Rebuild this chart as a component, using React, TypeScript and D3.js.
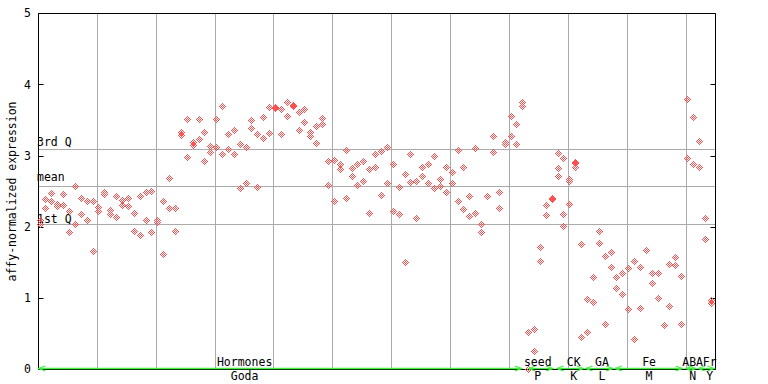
import React from 'react';
import * as d3 from 'd3';

// Expression values per sample column (replicate 1, replicate 2, optional replicate 3)
const rep1: (number | null)[] = [
  2.09, 2.38, 2.47, 2.32, 2.46, 2.22, 2.57, 2.40, 2.36, 2.36,
  2.27, 2.48, 2.23, 2.43, 2.37, 2.40, 2.19, 2.42, 2.49, 2.50,
  2.09, 2.36, 2.68, 2.26, 3.32, 3.51, 3.18, 3.51, 3.33, 3.13,
  3.51, 3.69, 3.30, 3.36, 3.16, 3.12, 3.50, 3.30, 3.54, 3.67,
  3.67, 3.65, 3.75, 3.70, 3.61, 3.65, 3.33, 3.41, 3.52, 2.92,
  2.93, 2.88, 3.08, 2.82, 2.88, 2.92, 2.81, 3.01, 3.06, 3.12,
  2.88, 2.56, 2.74, 3.01, 2.64, 2.84, 2.87, 2.99, 2.67, 2.84,
  2.77, 3.08, 2.84, 2.43, 3.10, 2.04, 2.42, 3.27, 2.49, 3.19,
  3.55, 3.44, 3.75, 0.52, 0.56, 1.71, 2.30, 2.40, 3.03, 2.96,
  2.67, 2.90, 1.75, 0.98, 1.29, 1.94, 1.59, 1.64, 1.29, 1.35,
  1.42, 1.52, 1.43, 1.67, 1.34, 1.35, 0.62, 1.47, 1.57, 1.31,
  3.79, 3.53, 3.20, 2.12, 0.96,
];
const rep2: (number | null)[] = [
  2.03, 2.26, 2.35, 2.29, 2.30, 1.92, 2.03, 2.18, 2.09, 1.66,
  2.22, 2.46, 2.18, 2.13, 2.30, 2.29, 1.94, 1.88, 2.09, 1.92,
  2.06, 1.61, 2.26, 1.94, 3.29, 2.98, 3.15, 3.23, 2.92, 3.05,
  3.12, 3.01, 3.09, 3.01, 2.54, 2.61, 3.38, 2.56, 3.24, 3.31,
  3.66, 3.30, 3.55, 3.69, 3.36, 3.46, 3.27, 3.17, 3.44, 2.58,
  2.36, 2.81, 2.40, 2.71, 2.58, 2.64, 2.19, 2.84, 2.44, 2.61,
  2.22, 2.18, 1.50, 2.63, 2.12, 2.71, 2.61, 2.54, 2.57, 2.49,
  2.61, 2.36, 2.25, 2.15, 2.19, 1.92, null, 3.05, 2.26, 3.16,
  3.27, 3.16, 3.69, 0.00, 0.25, 1.52, 2.16, 2.39, 2.82, 2.18,
  2.64, 2.84, 0.45, 0.52, 0.94, 1.76, 0.63, 1.43, 1.14, 1.05,
  0.84, 0.42, 0.86, null, 1.21, 1.00, null, 0.88, 1.46, 0.63,
  2.96, 2.88, 2.84, 1.83, 0.93,
];
const rep3Columns = [88, 89, 90, 91];
const rep3Values = [2.71, 2.01, 2.32, 2.89];

// Groups along the x axis (experiment / dataset)
const groupNames = ['Hormones', 'seed', 'CK', 'GA', 'Fe', 'ABA', 'Fr'];
const datasetNames = ['Goda', 'P', 'K', 'L', 'M', 'N', 'Y'];
const groupStart = [0.05, 83.3, 88.1, 93.0, 98.0, 110.0, 112.1];
const groupEnd = [82.2, 87.5, 92.7, 97.7, 109.5, 111.8, 114.9];
const groupLabelAt = [35.1, 84.9, 91.0, 95.8, 103.8, 111.2, 114.1];

// Summary lines
const quartileNames = ['3rd Q', 'mean', '1st Q'];
const quartileValues = [3.10, 2.58, 2.04];
const quartileLabelOffset = [-2.5, -4.5, -1];

const yTicks = [0, 1, 2, 3, 4, 5];
const xGrid = [10, 20, 30, 40, 50, 60, 70, 80, 90, 100, 110];

const W = 768;
const H = 384;
const FONT = '"DejaVu Sans Mono", monospace';
const RED = '#ff5050';
const GREEN = '#44ee44';
const GRID = '#aaaaaa';

export default function App() {
  const x = d3.scaleLinear().domain([0, 115]).range([38, 715]);
  const y = d3.scaleLinear().domain([0, 5]).range([369.3, 13.3]);
  const px = (v: number) => Math.round(v) + 0.5;

  const left = px(x(0));
  const right = px(x(115));
  const top = px(y(5));
  const bottom = px(y(0));

  const pts: [number, number][] = [];
  rep1.forEach((v, i) => { if (v != null) pts.push([i, v]); });
  rep2.forEach((v, i) => { if (v != null) pts.push([i, v]); });
  rep3Columns.forEach((c, i) => pts.push([c, rep3Values[i]]));

  let markPath = '';
  pts.forEach(([k, v]) => {
    const cx = Math.floor(x(k + 0.35));
    const cy = Math.floor(y(v));
    for (let dx = -3; dx <= 3; dx++) {
      for (let dy = -3; dy <= 3; dy++) {
        const d = Math.abs(dx) + Math.abs(dy);
        if (d <= 3 && (dx + dy) % 2 !== 0) {
          markPath += `M${cx + dx},${cy + dy}h1v1h-1z`;
        }
      }
    }
  });

  const greenY = 368.5;

  return (
    <svg
      width={W}
      height={H}
      viewBox={`0 0 ${W} ${H}`}
      style={{ position: 'absolute', left: 0, top: 0, background: '#fff' }}
    >
      <rect x={0} y={0} width={W} height={H} fill="#fff" />
      {xGrid.map((g) => (
        <line key={g} x1={px(x(g))} x2={px(x(g))} y1={top} y2={bottom} stroke={GRID} strokeWidth={1} />
      ))}
      {quartileValues.map((q, i) => (
        <line key={i} x1={left} x2={right} y1={px(y(q))} y2={px(y(q))} stroke={GRID} strokeWidth={1} />
      ))}
      <line x1={left} x2={right} y1={top} y2={top} stroke="#000" />
      <line x1={left} x2={left} y1={top} y2={bottom} stroke="#000" />
      <line x1={right} x2={right} y1={top} y2={bottom} stroke="#000" />
      <line x1={left} x2={right} y1={bottom} y2={bottom} stroke="#000" />
      {yTicks.map((t) => (
        <g key={t}>
          <line x1={left} x2={left + 5} y1={px(y(t))} y2={px(y(t))} stroke="#000" />
          <line x1={right - 5} x2={right} y1={px(y(t))} y2={px(y(t))} stroke="#000" />
          <text x={31} y={y(t) + 4} textAnchor="end" fontFamily={FONT} fontSize={11.5} fill="#000">
            {t}
          </text>
        </g>
      ))}
      {quartileNames.map((n, i) => (
        <text key={n} x={37} y={y(quartileValues[i]) + quartileLabelOffset[i]} fontFamily={FONT} fontSize={11.5} fill="#000">
          {n}
        </text>
      ))}
      <text
        transform={`translate(15.5,${(top + bottom) / 2}) rotate(-90)`}
        textAnchor="middle"
        fontFamily={FONT}
        fontSize={11.5}
        fill="#000"
      >
        affy-normalized expression
      </text>
      <path d={markPath} fill={RED} shapeRendering="crispEdges" />
      {groupNames.map((g, i) => {
        const xs = x(groupStart[i]);
        const xe = x(groupEnd[i]);
        return (
          <g key={g} stroke={GREEN} fill="none" strokeWidth={1.3}>
            <line x1={xs} x2={xe} y1={greenY} y2={greenY} />
            <polyline points={`${xs + 7},${greenY - 2.5} ${xs + 0.5},${greenY} ${xs + 7},${greenY + 2.5}`} />
            <polyline points={`${xe - 7},${greenY - 2.5} ${xe - 0.5},${greenY} ${xe - 7},${greenY + 2.5}`} />
          </g>
        );
      })}
      {groupNames.map((g, i) => (
        <text key={'t' + g} x={x(groupLabelAt[i])} y={366} textAnchor="middle" fontFamily={FONT} fontSize={11.5} fill="#000">
          {g}
        </text>
      ))}
      {datasetNames.map((d, i) => (
        <text key={'d' + d} x={x(groupLabelAt[i])} y={380} textAnchor="middle" fontFamily={FONT} fontSize={11.5} fill="#000">
          {d}
        </text>
      ))}
    </svg>
  );
}
